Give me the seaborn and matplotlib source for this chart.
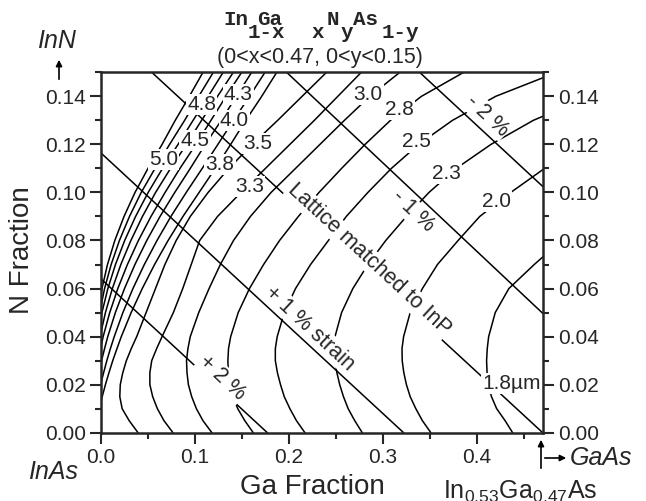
import numpy as np
import pandas as pd
import matplotlib
matplotlib.use("Agg")
import matplotlib.pyplot as plt
import seaborn as sns
from matplotlib.ticker import MultipleLocator

sns.set_style("ticks")
plt.rcParams['font.family'] = ['Liberation Sans', 'DejaVu Sans']
plt.rcParams['mathtext.fontset'] = 'custom'
plt.rcParams['mathtext.rm'] = 'Liberation Sans'
plt.rcParams['mathtext.it'] = 'Liberation Sans:italic'

nan = np.nan

# N fraction at which each contour was read
y_grid = [0.000, 0.005, 0.010, 0.015, 0.020, 0.025, 0.030, 0.035, 0.040, 0.050, 0.060,
          0.070, 0.080, 0.090, 0.100, 0.110, 0.120, 0.130, 0.140, 0.150]

# Ga fraction of each wavelength contour (um) at the y values above
lam_175 = [0.438, 0.430, 0.421, 0.4155, 0.412, 0.4108, 0.4103, 0.4110, 0.4125, 0.4195, 0.434,
           0.461, 0.490, nan, nan, nan, nan, nan, nan, nan]
lam_200 = [0.351, 0.342, 0.335, 0.329, 0.325, 0.3222, 0.3205, 0.3203, 0.322, 0.329, 0.342,
           0.358, 0.380, 0.403, 0.436, 0.472, nan, nan, nan, nan]
lam_225 = [0.278, 0.270, 0.263, 0.258, 0.254, 0.2510, 0.249, 0.2483, 0.249, 0.256, 0.268,
           0.284, 0.303, 0.325, 0.349, 0.378, 0.415, 0.460, 0.520, nan]
lam_250 = [0.217, 0.208, 0.201, 0.195, 0.191, 0.1877, 0.1855, 0.1855, 0.1875, 0.195, 0.207,
           0.223, 0.242, 0.261, 0.284, 0.309, 0.338, 0.374, 0.420, 0.485]
lam_275 = [0.162, 0.153, 0.1455, 0.1405, 0.137, 0.1355, 0.135, 0.1357, 0.138, 0.146, 0.158,
           0.173, 0.190, 0.210, 0.232, 0.256, 0.281, 0.308, 0.341, 0.386]
lam_300 = [0.118, 0.1085, 0.1015, 0.0965, 0.093, 0.0915, 0.091, 0.0925, 0.095, 0.104, 0.115,
           0.127, 0.141, 0.159, 0.181, 0.207, 0.233, 0.259, 0.286, 0.318]
lam_325 = [0.0766, 0.067, 0.060, 0.055, 0.052, 0.0520, 0.054, 0.0592, 0.065, 0.077, 0.087,
           0.096, 0.105, 0.124, 0.149, 0.175, 0.201, 0.227, 0.252, 0.277]
lam_350 = [0.0394, 0.030, 0.0225, 0.020, 0.0205, 0.0232, 0.027, 0.0322, 0.038, 0.048, 0.058,
           0.068, 0.080, 0.095, 0.114, 0.136, 0.161, 0.188, 0.214, 0.240]
lam_375 = [nan, nan, -0.0017, 0.0013, 0.0047, 0.0085, 0.0125, 0.0170, 0.0216, 0.0321, 0.0439,
           0.0570, 0.0714, 0.0872, 0.1044, 0.1216, 0.138, 0.154, 0.171, 0.187]
lam_400 = [nan, nan, nan, -0.0031, -0.0004, 0.0028, 0.0062, 0.0100, 0.0141, 0.0233, 0.0340,
           0.0461, 0.0596, 0.0744, 0.0907, 0.1077, 0.1244, 0.141, 0.158, 0.1745]
lam_425 = [nan, nan, nan, nan, -0.0045, -0.0020, 0.0006, 0.0038, 0.0072, 0.0153, 0.0250,
           0.0361, 0.0487, 0.0628, 0.0785, 0.095, 0.111, 0.128, 0.144, 0.1603]
lam_450 = [nan, nan, nan, nan, nan, nan, -0.0030, -0.0004, 0.0023, 0.0093, 0.0179,
           0.0281, 0.0398, 0.0532, 0.0682, 0.084, 0.101, 0.117, 0.133, 0.1497]
lam_475 = [nan, nan, nan, nan, nan, nan, nan, nan, -0.0010, 0.0047, 0.0121,
           0.0211, 0.0318, 0.0441, 0.0581, 0.074, 0.091, 0.107, 0.124, 0.1408]
lam_500 = [nan, nan, nan, nan, nan, nan, nan, nan, -0.0035, 0.0010, 0.0073,
           0.0154, 0.0252, 0.0368, 0.0502, 0.0655, 0.082, 0.098, 0.114, 0.130]
lam_525 = [nan, nan, nan, nan, nan, nan, nan, nan, nan, -0.0014, 0.0038,
           0.0108, 0.0196, 0.0303, 0.0428, 0.0575, 0.073, 0.089, 0.104, 0.1195]
lam_550 = [nan, nan, nan, nan, nan, nan, nan, nan, nan, -0.0030, 0.0010,
           0.0069, 0.0147, 0.0245, 0.0362, 0.050, 0.065, 0.079, 0.094, 0.1085]

levels = [1.75, 2.0, 2.25, 2.5, 2.75, 3.0, 3.25, 3.5, 3.75, 4.0, 4.25, 4.5, 4.75, 5.0, 5.25, 5.5]
contour_cols = [lam_175, lam_200, lam_225, lam_250, lam_275, lam_300, lam_325, lam_350,
                lam_375, lam_400, lam_425, lam_450, lam_475, lam_500, lam_525, lam_550]

# contour labels
label_text = ['4.8', '4.3', '4.0', '4.5', '3.5', '5.0', '3.8', '3.3',
              '3.0', '2.8', '2.5', '2.3', '2.0', '1.8\u00b5m']
label_x = [0.107, 0.146, 0.1417, 0.100, 0.1665, 0.0663, 0.1266, 0.1585,
           0.2844, 0.318, 0.336, 0.3677, 0.4206, 0.437]
label_y = [0.1365, 0.1408, 0.130, 0.1217, 0.1203, 0.1136, 0.1116, 0.1025,
           0.1408, 0.1345, 0.121, 0.108, 0.0964, 0.0205]

# strain lines (start / end points)
strain_name = ['+2', '+1', '0', '-1', '-2']
strain_x0 = [0.0, 0.0, 0.054, 0.1975, 0.339]
strain_y0 = [0.064, 0.1164, 0.150, 0.150, 0.150]
strain_x1 = [0.177, 0.322, 0.470, 0.470, 0.470]
strain_y1 = [0.0, 0.0, 0.0, 0.0497, 0.1025]
strain_text = ['+ 2 %', '+ 1 % strain', 'Lattice matched to InP', '- 1 %', '- 2 %']
strain_tx = [0.129, 0.222, 0.285, 0.332, 0.411]
strain_ty = [0.023, 0.0435, 0.072, 0.092, 0.132]

x_ticks = [0.0, 0.1, 0.2, 0.3, 0.4]
y_ticks = [0.00, 0.02, 0.04, 0.06, 0.08, 0.10, 0.12, 0.14]

# long tables for seaborn
rows = []
for lev, xs in zip(levels, contour_cols):
    for xv, yv in zip(xs, y_grid):
        if not np.isnan(xv):
            rows.append((lev, xv, yv))
df = pd.DataFrame(rows, columns=['level', 'x', 'y'])

srows = []
for n, a, b, c, d in zip(strain_name, strain_x0, strain_y0, strain_x1, strain_y1):
    srows.append((n, a, b))
    srows.append((n, c, d))
df_s = pd.DataFrame(srows, columns=['name', 'x', 'y'])

W, H = 646, 501
fig = plt.figure(figsize=(W / 100, H / 100), dpi=100)
ax = fig.add_axes([101 / W, 1 - 432.7 / H, 441.7 / W, 360.4 / H])

sns.lineplot(data=df, x='x', y='y', units='level', estimator=None, sort=False,
             color='black', lw=1.1, ax=ax, legend=False)
sns.lineplot(data=df_s, x='x', y='y', units='name', estimator=None, sort=False,
             color='black', lw=1.1, ax=ax, legend=False)

ax.set_xlim(0, 0.47)
ax.set_ylim(0, 0.15)
ax.set_xticks(x_ticks)
ax.set_yticks(y_ticks)
ax.xaxis.set_minor_locator(MultipleLocator(0.05))
ax.yaxis.set_minor_locator(MultipleLocator(0.01))
ax.xaxis.set_major_formatter(plt.FormatStrFormatter('%.1f'))
ax.yaxis.set_major_formatter(plt.FormatStrFormatter('%.2f'))
ax.tick_params(which='both', direction='out', width=1.5, labelsize=15,
               right=True, labelright=True, top=False)
ax.tick_params(which='major', length=8, pad=3)
ax.tick_params(which='minor', length=4.5)
for s in ax.spines.values():
    s.set_linewidth(1.8)

ax.set_xlabel('Ga Fraction', fontsize=20)
ax.set_ylabel('N Fraction', fontsize=20)
ax.xaxis.set_label_coords((312 - 101) / 441.7, -(474 - 432.7) / 360.4)
ax.yaxis.set_label_coords(-0.149, 0.507)

for t, xv, yv in zip(label_text, label_x, label_y):
    ax.text(xv, yv, t, ha='center', va='center', fontsize=15, zorder=5,
            bbox=dict(boxstyle='square,pad=0.05', fc='white', ec='none'))

for t, xv, yv, a, b, c, d in zip(strain_text, strain_tx, strain_ty,
                                 strain_x0, strain_y0, strain_x1, strain_y1):
    p0 = ax.transData.transform((a, b))
    p1 = ax.transData.transform((c, d))
    ang = np.degrees(np.arctan2(p1[1] - p0[1], p1[0] - p0[0]))
    ax.text(xv, yv, t, ha='center', va='center', fontsize=15.5, rotation=ang,
            rotation_mode='anchor', zorder=5,
            bbox=dict(boxstyle='square,pad=0.05', fc='white', ec='none'))

# title In(1-x)Ga(x)N(y)As(1-y) in bold typewriter face
title_parts = ['In', '1-x', 'Ga', 'x', 'N', 'y', 'As', '1-y']
title_px = [223, 248, 257, 312, 327, 341, 353, 382]
title_sub = [0, 1, 0, 1, 0, 1, 0, 1]
for t, px, sub in zip(title_parts, title_px, title_sub):
    py = 38 if sub else 25
    fig.text(px / W, 1 - py / H, t, family='Liberation Mono', weight='bold',
             fontsize=15, ha='left', va='baseline')
fig.text(320 / W, 1 - 57.5 / H, '(0<x<0.47, 0<y<0.15)', ha='center', va='center', fontsize=15.5)

# end member annotations
fig.text(56 / W, 1 - 41 / H, 'InN', style='italic', fontsize=18, ha='center', va='center')
ax.annotate('', xy=(59 / W, 1 - 57 / H), xytext=(59 / W, 1 - 82 / H),
            xycoords='figure fraction', textcoords='figure fraction',
            arrowprops=dict(arrowstyle='-|>', color='black', lw=1.2, mutation_scale=9))
fig.text(53 / W, 1 - 472 / H, 'InAs', style='italic', fontsize=18, ha='center', va='center')
ax.annotate('', xy=(541 / W, 1 - 437 / H), xytext=(541 / W, 1 - 471 / H),
            xycoords='figure fraction', textcoords='figure fraction',
            arrowprops=dict(arrowstyle='-|>', color='black', lw=1.2, mutation_scale=9))
ax.annotate('', xy=(569 / W, 1 - 458 / H), xytext=(542 / W, 1 - 458 / H),
            xycoords='figure fraction', textcoords='figure fraction',
            arrowprops=dict(arrowstyle='-|>', color='black', lw=1.2, mutation_scale=9))
fig.text(570 / W, 1 - 458 / H, 'GaAs', style='italic', fontsize=18, ha='left', va='center')
fig.text(443 / W, 1 - 479 / H, r'In$_{0.53}$Ga$_{0.47}$As', fontsize=18, ha='left', va='top')

fig.savefig('out.png', dpi=100)
